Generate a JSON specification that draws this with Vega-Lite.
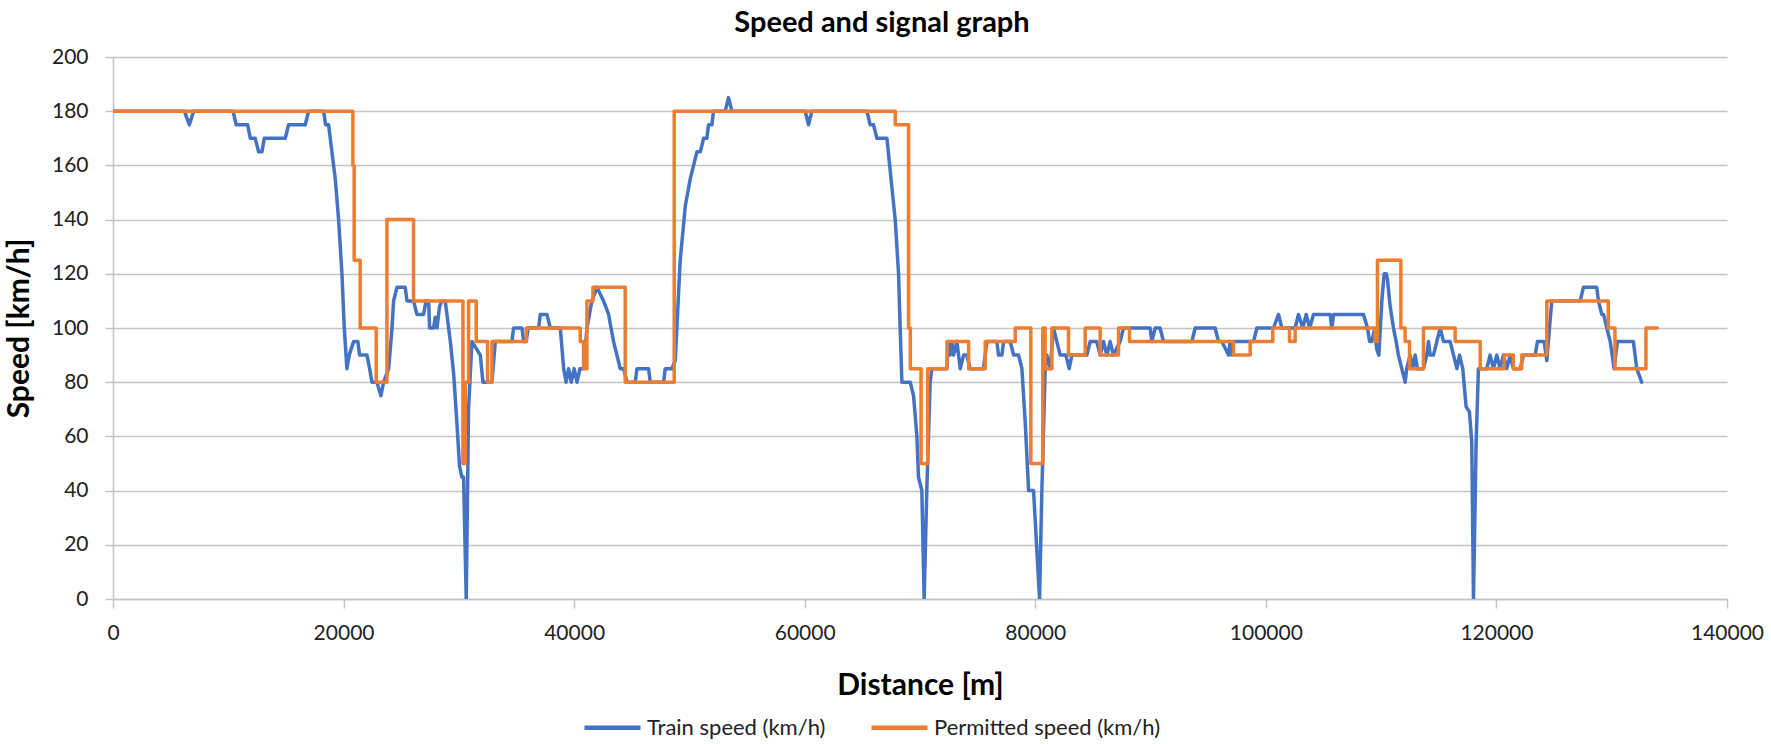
{
  "$schema": "https://vega.github.io/schema/vega-lite/v6.json",
  "width": 1614,
  "height": 542,
  "autosize": {"type": "none"},
  "padding": {"left": 113, "top": 57, "right": 44, "bottom": 145},
  "background": "white",
  "title": {"text": "Speed and signal graph", "font": "Lato", "fontSize": 29, "fontWeight": "bold", "color": "#000000", "anchor": "middle", "dx": -38, "offset": 8},
  "config": {
    "view": {"stroke": null},
    "axis": {"labelFont": "Lato", "labelFontSize": 21, "labelColor": "#222222", "titleFont": "Lato", "titleFontSize": 30, "titleFontWeight": "bold", "titleColor": "#000000", "domainColor": "#c4c4c4", "domainWidth": 1.5, "tickColor": "#c4c4c4", "tickWidth": 1.5, "gridColor": "#c4c4c4", "gridWidth": 1.5}
  },
  "datasets": {
    "train": [
      {"d":0,"v":180},{"d":6190,"v":180},{"d":6620,"v":175},{"d":7000,"v":180},{"d":10410,"v":180},{"d":10690,"v":175},{"d":11680,"v":175},{"d":11910,"v":170},{"d":12340,"v":170},{"d":12630,"v":165},{"d":12920,"v":165},{"d":13120,"v":170},{"d":14940,"v":170},{"d":15230,"v":175},{"d":16680,"v":175},{"d":16960,"v":180},{"d":18270,"v":180},{"d":18440,"v":175},{"d":18700,"v":175},{"d":18990,"v":165},{"d":19280,"v":155},{"d":19570,"v":140},{"d":19860,"v":120},{"d":20060,"v":100},{"d":20290,"v":85},{"d":20490,"v":90},{"d":20870,"v":95},{"d":21240,"v":95},{"d":21390,"v":90},{"d":22030,"v":90},{"d":22260,"v":85},{"d":22460,"v":80},{"d":22890,"v":80},{"d":23240,"v":75},{"d":23470,"v":80},{"d":23910,"v":85},{"d":24200,"v":100},{"d":24340,"v":110},{"d":24630,"v":115},{"d":25350,"v":115},{"d":25500,"v":110},{"d":26070,"v":110},{"d":26360,"v":105},{"d":26940,"v":105},{"d":27150,"v":110},{"d":27380,"v":110},{"d":27460,"v":100},{"d":27810,"v":100},{"d":27950,"v":104},{"d":28100,"v":100},{"d":28330,"v":108},{"d":28530,"v":110},{"d":28820,"v":110},{"d":29260,"v":95},{"d":29550,"v":83},{"d":29830,"v":65},{"d":30060,"v":49},{"d":30260,"v":45},{"d":30410,"v":45},{"d":30640,"v":0},{"d":30840,"v":70},{"d":31130,"v":95},{"d":31570,"v":92},{"d":31860,"v":90},{"d":32090,"v":80},{"d":32870,"v":80},{"d":33160,"v":95},{"d":34600,"v":95},{"d":34750,"v":100},{"d":35470,"v":100},{"d":35620,"v":95},{"d":35850,"v":95},{"d":36000,"v":100},{"d":36920,"v":100},{"d":37060,"v":105},{"d":37640,"v":105},{"d":37930,"v":100},{"d":38800,"v":100},{"d":39090,"v":85},{"d":39300,"v":80},{"d":39520,"v":85},{"d":39750,"v":80},{"d":40000,"v":85},{"d":40250,"v":80},{"d":40500,"v":85},{"d":40820,"v":85},{"d":41110,"v":100},{"d":41540,"v":110},{"d":41980,"v":115},{"d":42550,"v":110},{"d":42990,"v":105},{"d":43200,"v":100},{"d":43420,"v":95},{"d":43710,"v":90},{"d":44000,"v":85},{"d":44290,"v":85},{"d":44580,"v":80},{"d":45300,"v":80},{"d":45450,"v":85},{"d":46460,"v":85},{"d":46600,"v":80},{"d":47760,"v":80},{"d":47900,"v":85},{"d":48480,"v":85},{"d":48770,"v":88},{"d":49200,"v":125},{"d":49640,"v":145},{"d":50070,"v":155},{"d":50650,"v":165},{"d":50940,"v":165},{"d":51230,"v":170},{"d":51510,"v":170},{"d":51660,"v":175},{"d":51950,"v":175},{"d":52090,"v":180},{"d":53100,"v":180},{"d":53390,"v":185},{"d":53680,"v":180},{"d":60040,"v":180},{"d":60330,"v":175},{"d":60620,"v":180},{"d":65390,"v":180},{"d":65680,"v":175},{"d":65970,"v":175},{"d":66260,"v":170},{"d":67130,"v":170},{"d":67560,"v":152},{"d":67850,"v":140},{"d":68140,"v":120},{"d":68280,"v":100},{"d":68430,"v":80},{"d":69150,"v":80},{"d":69440,"v":75},{"d":69730,"v":60},{"d":69870,"v":45},{"d":70160,"v":40},{"d":70360,"v":0},{"d":70590,"v":40},{"d":70880,"v":80},{"d":71030,"v":85},{"d":72330,"v":85},{"d":72470,"v":95},{"d":72620,"v":90},{"d":72760,"v":95},{"d":72910,"v":90},{"d":73200,"v":95},{"d":73490,"v":85},{"d":73780,"v":90},{"d":74060,"v":90},{"d":74350,"v":85},{"d":75510,"v":85},{"d":75800,"v":95},{"d":76670,"v":95},{"d":76810,"v":90},{"d":77100,"v":90},{"d":77250,"v":95},{"d":77830,"v":95},{"d":78120,"v":90},{"d":78550,"v":90},{"d":78840,"v":85},{"d":79130,"v":65},{"d":79420,"v":40},{"d":79850,"v":40},{"d":80370,"v":0},{"d":80570,"v":40},{"d":80860,"v":85},{"d":81000,"v":90},{"d":81290,"v":85},{"d":81580,"v":100},{"d":81870,"v":95},{"d":82160,"v":90},{"d":82650,"v":90},{"d":82940,"v":85},{"d":83170,"v":90},{"d":84470,"v":90},{"d":84760,"v":95},{"d":85330,"v":95},{"d":85630,"v":90},{"d":85920,"v":95},{"d":86210,"v":90},{"d":86490,"v":95},{"d":86780,"v":90},{"d":87360,"v":95},{"d":87650,"v":100},{"d":89960,"v":100},{"d":90110,"v":95},{"d":90400,"v":100},{"d":90830,"v":100},{"d":91120,"v":95},{"d":93580,"v":95},{"d":93870,"v":100},{"d":95600,"v":100},{"d":95890,"v":95},{"d":96180,"v":95},{"d":96760,"v":90},{"d":96900,"v":95},{"d":97050,"v":90},{"d":97190,"v":95},{"d":98930,"v":95},{"d":99220,"v":100},{"d":100660,"v":100},{"d":101100,"v":105},{"d":101390,"v":100},{"d":102540,"v":100},{"d":102830,"v":105},{"d":103200,"v":100},{"d":103500,"v":105},{"d":103800,"v":100},{"d":104130,"v":105},{"d":105580,"v":105},{"d":105720,"v":100},{"d":105870,"v":105},{"d":108470,"v":105},{"d":108820,"v":100},{"d":109000,"v":95},{"d":109190,"v":95},{"d":109400,"v":99},{"d":109630,"v":92},{"d":109800,"v":90},{"d":110060,"v":110},{"d":110260,"v":120},{"d":110440,"v":120},{"d":110550,"v":118},{"d":110780,"v":108},{"d":111070,"v":100},{"d":111300,"v":95},{"d":111500,"v":90},{"d":111790,"v":85},{"d":112080,"v":80},{"d":112220,"v":85},{"d":112510,"v":90},{"d":112750,"v":85},{"d":112950,"v":90},{"d":113150,"v":85},{"d":113670,"v":85},{"d":113960,"v":90},{"d":114110,"v":95},{"d":114250,"v":90},{"d":114540,"v":90},{"d":114830,"v":95},{"d":115120,"v":100},{"d":115410,"v":95},{"d":115990,"v":95},{"d":116280,"v":90},{"d":116570,"v":85},{"d":116800,"v":90},{"d":117080,"v":85},{"d":117370,"v":71},{"d":117660,"v":69},{"d":117860,"v":58},{"d":118010,"v":0},{"d":118240,"v":58},{"d":118440,"v":85},{"d":119160,"v":85},{"d":119450,"v":90},{"d":119740,"v":85},{"d":120030,"v":90},{"d":120320,"v":85},{"d":120610,"v":90},{"d":120900,"v":85},{"d":121190,"v":90},{"d":121470,"v":85},{"d":122060,"v":85},{"d":122350,"v":90},{"d":123360,"v":90},{"d":123560,"v":95},{"d":124140,"v":95},{"d":124370,"v":88},{"d":124600,"v":100},{"d":124800,"v":110},{"d":127260,"v":110},{"d":127550,"v":115},{"d":128700,"v":115},{"d":128850,"v":110},{"d":129140,"v":105},{"d":129290,"v":105},{"d":129580,"v":100},{"d":129870,"v":95},{"d":130210,"v":85},{"d":130490,"v":95},{"d":131880,"v":95},{"d":132170,"v":85},{"d":132600,"v":80}
    ],
    "permitted": [
      {"d":0,"v":180},{"d":20810,"v":160},{"d":20920,"v":125},{"d":21440,"v":100},{"d":22830,"v":80},{"d":23760,"v":140},{"d":26070,"v":110},{"d":30355,"v":50},{"d":30555,"v":80},{"d":30843,"v":110},{"d":31509,"v":95},{"d":32490,"v":80},{"d":32870,"v":95},{"d":35845,"v":100},{"d":40530,"v":95},{"d":40820,"v":85},{"d":41110,"v":110},{"d":41630,"v":115},{"d":44430,"v":80},{"d":48680,"v":180},{"d":67850,"v":175},{"d":69010,"v":100},{"d":69160,"v":85},{"d":70090,"v":50},{"d":70670,"v":85},{"d":72340,"v":95},{"d":74220,"v":85},{"d":75660,"v":95},{"d":78260,"v":100},{"d":79615,"v":50},{"d":80650,"v":100},{"d":80850,"v":85},{"d":81440,"v":100},{"d":82880,"v":90},{"d":84330,"v":100},{"d":85630,"v":90},{"d":87220,"v":100},{"d":88170,"v":95},{"d":97190,"v":90},{"d":98640,"v":95},{"d":100600,"v":100},{"d":102050,"v":95},{"d":102540,"v":100},{"d":109480,"v":95},{"d":109680,"v":125},{"d":111710,"v":100},{"d":112080,"v":95},{"d":112460,"v":85},{"d":113670,"v":100},{"d":116420,"v":95},{"d":118590,"v":85},{"d":120670,"v":90},{"d":121470,"v":85},{"d":122200,"v":90},{"d":124370,"v":110},{"d":129700,"v":100},{"d":130280,"v":85},{"d":132970,"v":100},{"d":133960,"v":100}
    ]
  },
  "encoding": {
    "x": {"field": "d", "type": "quantitative", "scale": {"domain": [0, 140000], "nice": false, "zero": false},
      "axis": {"title": "Distance [m]", "values": [0,20000,40000,60000,80000,100000,120000,140000], "format": "d", "grid": false, "tickSize": 9, "labelPadding": 14, "labelFlush": false, "titleY": 86, "titleBaseline": "middle"}},
    "y": {"field": "v", "type": "quantitative", "scale": {"domain": [0, 200], "nice": false},
      "axis": {"title": "Speed [km/h]", "values": [0,20,40,60,80,100,120,140,160,180,200], "grid": true, "tickSize": 8, "labelPadding": 17, "titleX": -94, "titleY": 271, "titleBaseline": "middle", "titleAlign": "center", "titleAngle": -90}}
  },
  "layer": [
    {
      "data": {"name": "train"},
      "mark": {"type": "line", "strokeWidth": 3.5, "strokeJoin": "round", "strokeCap": "round", "clip": true},
      "encoding": {
        "color": {"datum": "Train speed (km/h)", "type": "nominal",
          "scale": {"domain": ["Train speed (km/h)", "Permitted speed (km/h)"], "range": ["#4472C4", "#ED7D31"]},
          "legend": {"title": null, "orient": "none", "legendX": 469, "legendY": 640, "direction": "horizontal", "symbolType": "stroke", "symbolSize": 3136, "symbolStrokeWidth": 4.5, "labelFont": "Lato", "labelFontSize": 22, "labelColor": "#222222", "labelOffset": 4, "labelLimit": 500, "columnPadding": 36}}
      }
    },
    {
      "data": {"name": "permitted"},
      "mark": {"type": "line", "interpolate": "step-after", "strokeWidth": 3.5, "strokeJoin": "round", "strokeCap": "round", "clip": true},
      "encoding": {
        "color": {"datum": "Permitted speed (km/h)", "type": "nominal"}
      }
    }
  ]
}
